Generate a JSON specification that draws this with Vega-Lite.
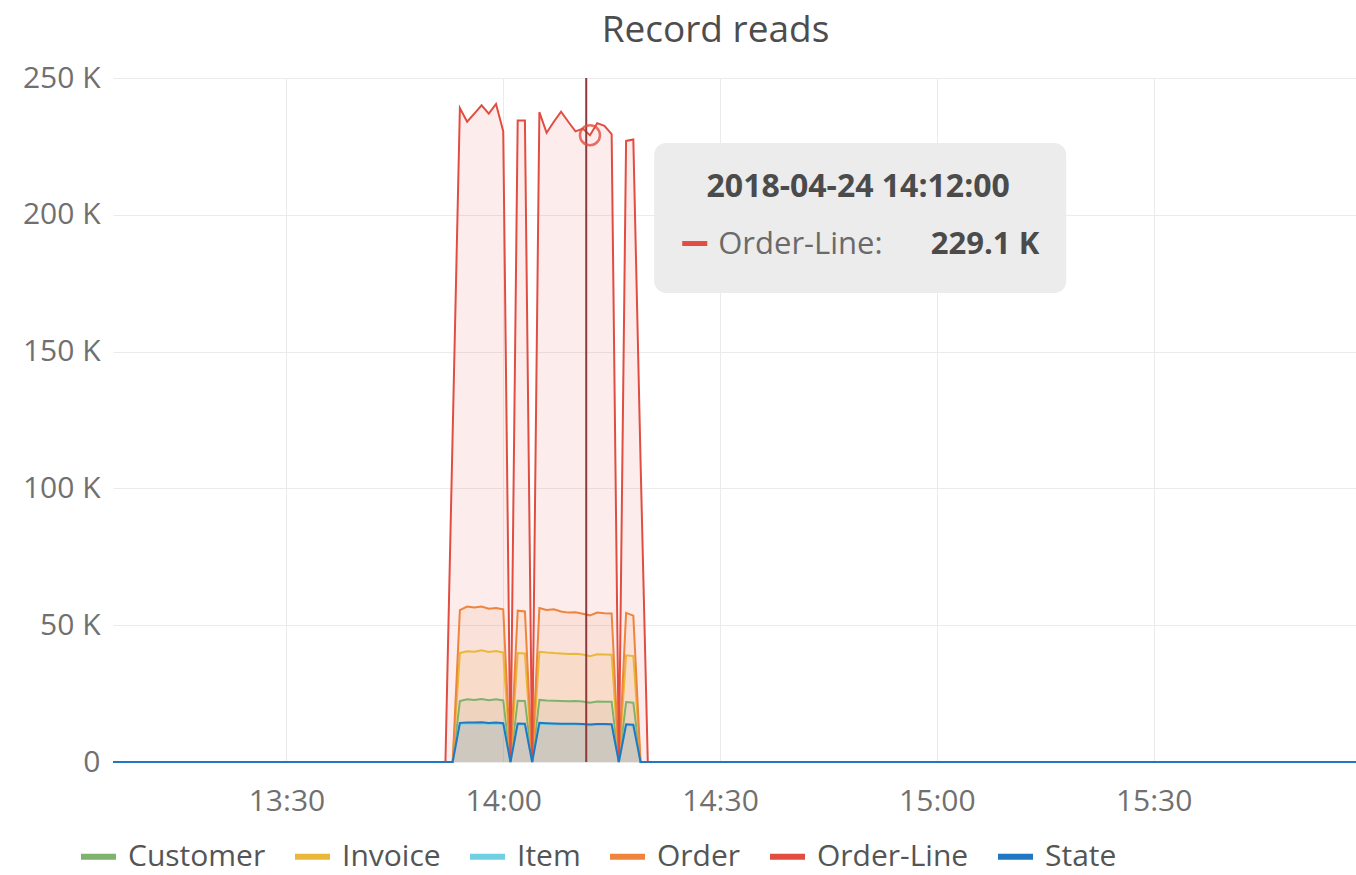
{
  "$schema": "https://vega.github.io/schema/vega-lite/v6.json",
  "width": 1243,
  "height": 684,
  "autosize": {"type": "none"},
  "padding": {"left": 113, "top": 78, "right": 0, "bottom": 113},
  "background": "white",
  "title": {"text": "Record reads", "font": "Open Sans", "fontSize": 37, "fontWeight": "normal", "color": "#4d4d4d", "anchor": "middle", "dx": -19, "offset": 13},
  "config": {"view": {"stroke": null}, "font": "Open Sans"},
  "resolve": {"legend": {"color": "independent"}},
  "data": {"values": [
    {"time": "2018-04-24T13:06:00", "series": "Customer", "value": 0},
    {"time": "2018-04-24T13:53:00", "series": "Customer", "value": 0},
    {"time": "2018-04-24T13:54:00", "series": "Customer", "value": 22300},
    {"time": "2018-04-24T13:55:00", "series": "Customer", "value": 22900},
    {"time": "2018-04-24T13:56:00", "series": "Customer", "value": 22700},
    {"time": "2018-04-24T13:57:00", "series": "Customer", "value": 23000},
    {"time": "2018-04-24T13:58:00", "series": "Customer", "value": 22600},
    {"time": "2018-04-24T13:59:00", "series": "Customer", "value": 22900},
    {"time": "2018-04-24T14:00:00", "series": "Customer", "value": 22500},
    {"time": "2018-04-24T14:01:00", "series": "Customer", "value": 0},
    {"time": "2018-04-24T14:02:00", "series": "Customer", "value": 22400},
    {"time": "2018-04-24T14:03:00", "series": "Customer", "value": 22300},
    {"time": "2018-04-24T14:04:00", "series": "Customer", "value": 0},
    {"time": "2018-04-24T14:05:00", "series": "Customer", "value": 22700},
    {"time": "2018-04-24T14:06:00", "series": "Customer", "value": 22500},
    {"time": "2018-04-24T14:07:00", "series": "Customer", "value": 22400},
    {"time": "2018-04-24T14:08:00", "series": "Customer", "value": 22300},
    {"time": "2018-04-24T14:09:00", "series": "Customer", "value": 22200},
    {"time": "2018-04-24T14:10:00", "series": "Customer", "value": 22300},
    {"time": "2018-04-24T14:11:00", "series": "Customer", "value": 22100},
    {"time": "2018-04-24T14:12:00", "series": "Customer", "value": 21700},
    {"time": "2018-04-24T14:13:00", "series": "Customer", "value": 22100},
    {"time": "2018-04-24T14:14:00", "series": "Customer", "value": 22000},
    {"time": "2018-04-24T14:15:00", "series": "Customer", "value": 22000},
    {"time": "2018-04-24T14:16:00", "series": "Customer", "value": 0},
    {"time": "2018-04-24T14:17:00", "series": "Customer", "value": 21900},
    {"time": "2018-04-24T14:18:00", "series": "Customer", "value": 21700},
    {"time": "2018-04-24T14:19:00", "series": "Customer", "value": 0},
    {"time": "2018-04-24T15:58:00", "series": "Customer", "value": 0},

    {"time": "2018-04-24T13:06:00", "series": "Invoice", "value": 0},
    {"time": "2018-04-24T13:53:00", "series": "Invoice", "value": 0},
    {"time": "2018-04-24T13:54:00", "series": "Invoice", "value": 39800},
    {"time": "2018-04-24T13:55:00", "series": "Invoice", "value": 40500},
    {"time": "2018-04-24T13:56:00", "series": "Invoice", "value": 40300},
    {"time": "2018-04-24T13:57:00", "series": "Invoice", "value": 40800},
    {"time": "2018-04-24T13:58:00", "series": "Invoice", "value": 40200},
    {"time": "2018-04-24T13:59:00", "series": "Invoice", "value": 40600},
    {"time": "2018-04-24T14:00:00", "series": "Invoice", "value": 40000},
    {"time": "2018-04-24T14:01:00", "series": "Invoice", "value": 0},
    {"time": "2018-04-24T14:02:00", "series": "Invoice", "value": 39800},
    {"time": "2018-04-24T14:03:00", "series": "Invoice", "value": 39700},
    {"time": "2018-04-24T14:04:00", "series": "Invoice", "value": 0},
    {"time": "2018-04-24T14:05:00", "series": "Invoice", "value": 40300},
    {"time": "2018-04-24T14:06:00", "series": "Invoice", "value": 40000},
    {"time": "2018-04-24T14:07:00", "series": "Invoice", "value": 39800},
    {"time": "2018-04-24T14:08:00", "series": "Invoice", "value": 39700},
    {"time": "2018-04-24T14:09:00", "series": "Invoice", "value": 39500},
    {"time": "2018-04-24T14:10:00", "series": "Invoice", "value": 39600},
    {"time": "2018-04-24T14:11:00", "series": "Invoice", "value": 39300},
    {"time": "2018-04-24T14:12:00", "series": "Invoice", "value": 38700},
    {"time": "2018-04-24T14:13:00", "series": "Invoice", "value": 39400},
    {"time": "2018-04-24T14:14:00", "series": "Invoice", "value": 39300},
    {"time": "2018-04-24T14:15:00", "series": "Invoice", "value": 39200},
    {"time": "2018-04-24T14:16:00", "series": "Invoice", "value": 0},
    {"time": "2018-04-24T14:17:00", "series": "Invoice", "value": 39000},
    {"time": "2018-04-24T14:18:00", "series": "Invoice", "value": 38700},
    {"time": "2018-04-24T14:19:00", "series": "Invoice", "value": 0},
    {"time": "2018-04-24T15:58:00", "series": "Invoice", "value": 0},

    {"time": "2018-04-24T13:06:00", "series": "Item", "value": 0},
    {"time": "2018-04-24T13:53:00", "series": "Item", "value": 0},
    {"time": "2018-04-24T13:54:00", "series": "Item", "value": 14000},
    {"time": "2018-04-24T13:55:00", "series": "Item", "value": 14100},
    {"time": "2018-04-24T13:56:00", "series": "Item", "value": 14100},
    {"time": "2018-04-24T13:57:00", "series": "Item", "value": 14200},
    {"time": "2018-04-24T13:58:00", "series": "Item", "value": 14000},
    {"time": "2018-04-24T13:59:00", "series": "Item", "value": 14100},
    {"time": "2018-04-24T14:00:00", "series": "Item", "value": 13900},
    {"time": "2018-04-24T14:01:00", "series": "Item", "value": 0},
    {"time": "2018-04-24T14:02:00", "series": "Item", "value": 13800},
    {"time": "2018-04-24T14:03:00", "series": "Item", "value": 13700},
    {"time": "2018-04-24T14:04:00", "series": "Item", "value": 0},
    {"time": "2018-04-24T14:05:00", "series": "Item", "value": 14000},
    {"time": "2018-04-24T14:06:00", "series": "Item", "value": 13900},
    {"time": "2018-04-24T14:07:00", "series": "Item", "value": 13800},
    {"time": "2018-04-24T14:08:00", "series": "Item", "value": 13700},
    {"time": "2018-04-24T14:09:00", "series": "Item", "value": 13700},
    {"time": "2018-04-24T14:10:00", "series": "Item", "value": 13700},
    {"time": "2018-04-24T14:11:00", "series": "Item", "value": 13600},
    {"time": "2018-04-24T14:12:00", "series": "Item", "value": 13400},
    {"time": "2018-04-24T14:13:00", "series": "Item", "value": 13600},
    {"time": "2018-04-24T14:14:00", "series": "Item", "value": 13600},
    {"time": "2018-04-24T14:15:00", "series": "Item", "value": 13500},
    {"time": "2018-04-24T14:16:00", "series": "Item", "value": 0},
    {"time": "2018-04-24T14:17:00", "series": "Item", "value": 13500},
    {"time": "2018-04-24T14:18:00", "series": "Item", "value": 13300},
    {"time": "2018-04-24T14:19:00", "series": "Item", "value": 0},
    {"time": "2018-04-24T15:58:00", "series": "Item", "value": 0},

    {"time": "2018-04-24T13:06:00", "series": "Order", "value": 0},
    {"time": "2018-04-24T13:53:00", "series": "Order", "value": 0},
    {"time": "2018-04-24T13:54:00", "series": "Order", "value": 55500},
    {"time": "2018-04-24T13:55:00", "series": "Order", "value": 56800},
    {"time": "2018-04-24T13:56:00", "series": "Order", "value": 56500},
    {"time": "2018-04-24T13:57:00", "series": "Order", "value": 56800},
    {"time": "2018-04-24T13:58:00", "series": "Order", "value": 56000},
    {"time": "2018-04-24T13:59:00", "series": "Order", "value": 56300},
    {"time": "2018-04-24T14:00:00", "series": "Order", "value": 55800},
    {"time": "2018-04-24T14:01:00", "series": "Order", "value": 0},
    {"time": "2018-04-24T14:02:00", "series": "Order", "value": 55300},
    {"time": "2018-04-24T14:03:00", "series": "Order", "value": 55000},
    {"time": "2018-04-24T14:04:00", "series": "Order", "value": 0},
    {"time": "2018-04-24T14:05:00", "series": "Order", "value": 56300},
    {"time": "2018-04-24T14:06:00", "series": "Order", "value": 55600},
    {"time": "2018-04-24T14:07:00", "series": "Order", "value": 55800},
    {"time": "2018-04-24T14:08:00", "series": "Order", "value": 55000},
    {"time": "2018-04-24T14:09:00", "series": "Order", "value": 54600},
    {"time": "2018-04-24T14:10:00", "series": "Order", "value": 54700},
    {"time": "2018-04-24T14:11:00", "series": "Order", "value": 54200},
    {"time": "2018-04-24T14:12:00", "series": "Order", "value": 53600},
    {"time": "2018-04-24T14:13:00", "series": "Order", "value": 54600},
    {"time": "2018-04-24T14:14:00", "series": "Order", "value": 54400},
    {"time": "2018-04-24T14:15:00", "series": "Order", "value": 54300},
    {"time": "2018-04-24T14:16:00", "series": "Order", "value": 0},
    {"time": "2018-04-24T14:17:00", "series": "Order", "value": 54500},
    {"time": "2018-04-24T14:18:00", "series": "Order", "value": 53500},
    {"time": "2018-04-24T14:19:00", "series": "Order", "value": 0},
    {"time": "2018-04-24T15:58:00", "series": "Order", "value": 0},

    {"time": "2018-04-24T13:06:00", "series": "Order-Line", "value": 0},
    {"time": "2018-04-24T13:52:00", "series": "Order-Line", "value": 0},
    {"time": "2018-04-24T13:53:00", "series": "Order-Line", "value": 120000},
    {"time": "2018-04-24T13:54:00", "series": "Order-Line", "value": 239000},
    {"time": "2018-04-24T13:55:00", "series": "Order-Line", "value": 234000},
    {"time": "2018-04-24T13:56:00", "series": "Order-Line", "value": 237000},
    {"time": "2018-04-24T13:57:00", "series": "Order-Line", "value": 240000},
    {"time": "2018-04-24T13:58:00", "series": "Order-Line", "value": 237000},
    {"time": "2018-04-24T13:59:00", "series": "Order-Line", "value": 240500},
    {"time": "2018-04-24T14:00:00", "series": "Order-Line", "value": 230500},
    {"time": "2018-04-24T14:01:00", "series": "Order-Line", "value": 0},
    {"time": "2018-04-24T14:02:00", "series": "Order-Line", "value": 234500},
    {"time": "2018-04-24T14:03:00", "series": "Order-Line", "value": 234500},
    {"time": "2018-04-24T14:04:00", "series": "Order-Line", "value": 0},
    {"time": "2018-04-24T14:05:00", "series": "Order-Line", "value": 237500},
    {"time": "2018-04-24T14:06:00", "series": "Order-Line", "value": 230000},
    {"time": "2018-04-24T14:07:00", "series": "Order-Line", "value": 234000},
    {"time": "2018-04-24T14:08:00", "series": "Order-Line", "value": 237700},
    {"time": "2018-04-24T14:09:00", "series": "Order-Line", "value": 234000},
    {"time": "2018-04-24T14:10:00", "series": "Order-Line", "value": 230500},
    {"time": "2018-04-24T14:11:00", "series": "Order-Line", "value": 231500},
    {"time": "2018-04-24T14:12:00", "series": "Order-Line", "value": 229100},
    {"time": "2018-04-24T14:13:00", "series": "Order-Line", "value": 233500},
    {"time": "2018-04-24T14:14:00", "series": "Order-Line", "value": 232500},
    {"time": "2018-04-24T14:15:00", "series": "Order-Line", "value": 229500},
    {"time": "2018-04-24T14:16:00", "series": "Order-Line", "value": 0},
    {"time": "2018-04-24T14:17:00", "series": "Order-Line", "value": 227000},
    {"time": "2018-04-24T14:18:00", "series": "Order-Line", "value": 227500},
    {"time": "2018-04-24T14:19:00", "series": "Order-Line", "value": 110000},
    {"time": "2018-04-24T14:20:00", "series": "Order-Line", "value": 0},
    {"time": "2018-04-24T15:58:00", "series": "Order-Line", "value": 0},

    {"time": "2018-04-24T13:06:00", "series": "State", "value": 0},
    {"time": "2018-04-24T13:53:00", "series": "State", "value": 0},
    {"time": "2018-04-24T13:54:00", "series": "State", "value": 14300},
    {"time": "2018-04-24T13:55:00", "series": "State", "value": 14400},
    {"time": "2018-04-24T13:56:00", "series": "State", "value": 14400},
    {"time": "2018-04-24T13:57:00", "series": "State", "value": 14500},
    {"time": "2018-04-24T13:58:00", "series": "State", "value": 14300},
    {"time": "2018-04-24T13:59:00", "series": "State", "value": 14400},
    {"time": "2018-04-24T14:00:00", "series": "State", "value": 14200},
    {"time": "2018-04-24T14:01:00", "series": "State", "value": 0},
    {"time": "2018-04-24T14:02:00", "series": "State", "value": 14100},
    {"time": "2018-04-24T14:03:00", "series": "State", "value": 14000},
    {"time": "2018-04-24T14:04:00", "series": "State", "value": 0},
    {"time": "2018-04-24T14:05:00", "series": "State", "value": 14300},
    {"time": "2018-04-24T14:06:00", "series": "State", "value": 14200},
    {"time": "2018-04-24T14:07:00", "series": "State", "value": 14100},
    {"time": "2018-04-24T14:08:00", "series": "State", "value": 14000},
    {"time": "2018-04-24T14:09:00", "series": "State", "value": 14000},
    {"time": "2018-04-24T14:10:00", "series": "State", "value": 14000},
    {"time": "2018-04-24T14:11:00", "series": "State", "value": 13900},
    {"time": "2018-04-24T14:12:00", "series": "State", "value": 13700},
    {"time": "2018-04-24T14:13:00", "series": "State", "value": 13900},
    {"time": "2018-04-24T14:14:00", "series": "State", "value": 13900},
    {"time": "2018-04-24T14:15:00", "series": "State", "value": 13800},
    {"time": "2018-04-24T14:16:00", "series": "State", "value": 0},
    {"time": "2018-04-24T14:17:00", "series": "State", "value": 13800},
    {"time": "2018-04-24T14:18:00", "series": "State", "value": 13600},
    {"time": "2018-04-24T14:19:00", "series": "State", "value": 0},
    {"time": "2018-04-24T15:58:00", "series": "State", "value": 0}
  ]},
  "layer": [
    {
      "mark": {"type": "area", "fillOpacity": 0.1, "line": false},
      "encoding": {
        "x": {"field": "time", "type": "temporal",
              "scale": {"domain": [{"year": 2018, "month": 4, "date": 24, "hours": 13, "minutes": 6}, {"year": 2018, "month": 4, "date": 24, "hours": 15, "minutes": 58}]},
              "axis": {"title": null, "format": "%H:%M",
                       "values": [{"year": 2018, "month": 4, "date": 24, "hours": 13, "minutes": 30}, {"year": 2018, "month": 4, "date": 24, "hours": 14, "minutes": 0}, {"year": 2018, "month": 4, "date": 24, "hours": 14, "minutes": 30}, {"year": 2018, "month": 4, "date": 24, "hours": 15, "minutes": 0}, {"year": 2018, "month": 4, "date": 24, "hours": 15, "minutes": 30}],
                       "grid": true, "gridColor": "#ebebeb", "domain": false, "ticks": false, "labelPadding": 24, "labelFontSize": 30, "labelFont": "Open Sans", "labelColor": "#707070", "labelOverlap": false, "labelFlush": false}},
        "y": {"field": "value", "type": "quantitative", "stack": null,
              "scale": {"domain": [0, 250000], "nice": false},
              "axis": {"title": null, "values": [0, 50000, 100000, 150000, 200000, 250000], "labelExpr": "datum.value === 0 ? '0' : (datum.value / 1000) + ' K'", "grid": true, "gridColor": "#ebebeb", "domain": false, "ticks": false, "labelPadding": 13, "labelFontSize": 30, "labelFont": "Open Sans", "labelColor": "#707070"}},
        "color": {"field": "series", "type": "nominal",
                  "scale": {"domain": ["Customer", "Invoice", "Item", "Order", "Order-Line", "State"], "range": ["#7EB26D", "#EAB839", "#6ED0E0", "#EF843C", "#E24D42", "#1F78C1"]},
                  "legend": null}
      }
    },
    {
      "mark": {"type": "line", "strokeWidth": 2},
      "encoding": {
        "x": {"field": "time", "type": "temporal"},
        "y": {"field": "value", "type": "quantitative"},
        "color": {"field": "series", "type": "nominal",
                  "legend": {"orient": "none", "legendX": -35, "legendY": 758, "direction": "horizontal", "title": null, "symbolType": "stroke", "symbolStrokeWidth": 6, "symbolSize": 1225, "labelFontSize": 30, "labelFont": "Open Sans", "labelColor": "#555555", "labelOffset": 9, "columnPadding": 17, "padding": 0}}
      }
    },
    {
      "transform": [{"filter": "datum.series === 'Order-Line' && hours(datum.time) === 14 && minutes(datum.time) === 12"}],
      "mark": {"type": "rule", "color": "#8e3a3a", "strokeWidth": 2},
      "encoding": {
        "x": {"datum": {"year": 2018, "month": 4, "date": 24, "hours": 14, "minutes": 11, "seconds": 29}, "type": "temporal"}
      }
    },
    {
      "transform": [{"filter": "datum.series === 'Order-Line' && hours(datum.time) === 14 && minutes(datum.time) === 12"}],
      "mark": {"type": "point", "shape": "circle", "filled": false, "size": 400, "strokeWidth": 2.5, "color": "#E24D42", "opacity": 0.8},
      "encoding": {
        "x": {"field": "time", "type": "temporal"},
        "y": {"field": "value", "type": "quantitative"}
      }
    },
    {
      "transform": [{"filter": "datum.series === 'Order-Line' && hours(datum.time) === 14 && minutes(datum.time) === 12"}],
      "mark": {"type": "rect", "color": "#ececec", "cornerRadius": 12},
      "encoding": {
        "x": {"datum": {"year": 2018, "month": 4, "date": 24, "hours": 14, "minutes": 20, "seconds": 53}, "type": "temporal"},
        "x2": {"datum": {"year": 2018, "month": 4, "date": 24, "hours": 15, "minutes": 17, "seconds": 54}},
        "y": {"datum": 226200, "type": "quantitative"},
        "y2": {"datum": 171400}
      }
    },
    {
      "transform": [{"filter": "datum.series === 'Order-Line' && hours(datum.time) === 14 && minutes(datum.time) === 12"}],
      "mark": {"type": "text", "font": "Open Sans", "fontSize": 32, "fontWeight": "bold", "color": "#4b4b4b", "align": "center", "baseline": "alphabetic"},
      "encoding": {
        "x": {"datum": {"year": 2018, "month": 4, "date": 24, "hours": 14, "minutes": 49, "seconds": 7}, "type": "temporal"},
        "y": {"datum": 206500, "type": "quantitative"},
        "text": {"field": "time", "type": "temporal", "format": "%Y-%m-%d %H:%M:%S"}
      }
    },
    {
      "transform": [{"filter": "datum.series === 'Order-Line' && hours(datum.time) === 14 && minutes(datum.time) === 12"}],
      "mark": {"type": "rule", "color": "#E24D42", "strokeWidth": 5},
      "encoding": {
        "x": {"datum": {"year": 2018, "month": 4, "date": 24, "hours": 14, "minutes": 24, "seconds": 46}, "type": "temporal"},
        "x2": {"datum": {"year": 2018, "month": 4, "date": 24, "hours": 14, "minutes": 28, "seconds": 14}},
        "y": {"datum": 189500, "type": "quantitative"}
      }
    },
    {
      "transform": [{"filter": "datum.series === 'Order-Line' && hours(datum.time) === 14 && minutes(datum.time) === 12"}],
      "mark": {"type": "text", "font": "Open Sans", "fontSize": 31, "color": "#6a6a6a", "align": "left", "baseline": "alphabetic"},
      "encoding": {
        "x": {"datum": {"year": 2018, "month": 4, "date": 24, "hours": 14, "minutes": 29, "seconds": 45}, "type": "temporal"},
        "y": {"datum": 185700, "type": "quantitative"},
        "text": {"value": "Order-Line:"}
      }
    },
    {
      "transform": [{"filter": "datum.series === 'Order-Line' && hours(datum.time) === 14 && minutes(datum.time) === 12"}],
      "mark": {"type": "text", "font": "Open Sans", "fontSize": 31, "fontWeight": "bold", "color": "#4b4b4b", "align": "right", "baseline": "alphabetic"},
      "encoding": {
        "x": {"datum": {"year": 2018, "month": 4, "date": 24, "hours": 15, "minutes": 14, "seconds": 10}, "type": "temporal"},
        "y": {"datum": 185700, "type": "quantitative"},
        "text": {"value": "229.1 K"}
      }
    }
  ]
}
